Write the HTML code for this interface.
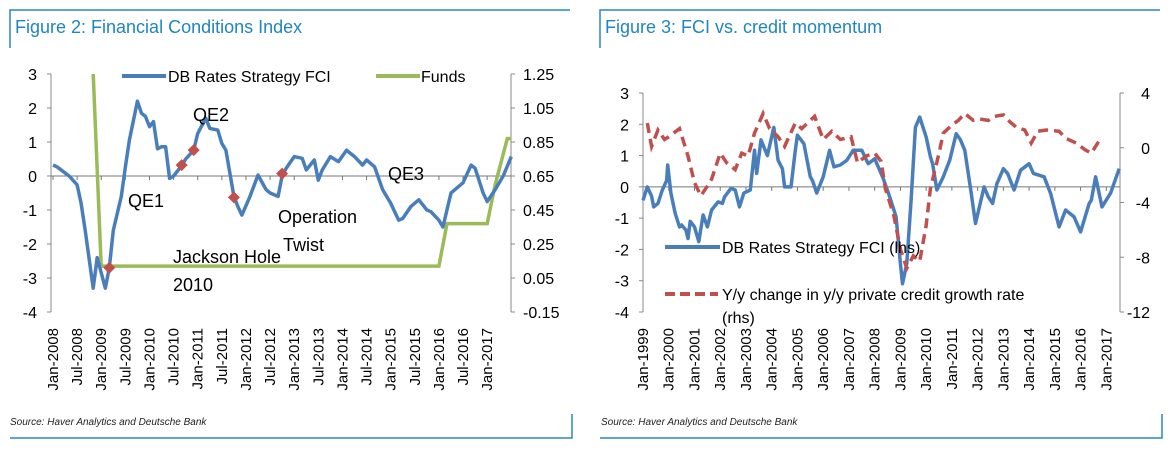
<!DOCTYPE html>
<html><head><meta charset="utf-8"><style>
body{margin:0;background:#fff;width:1172px;height:453px;overflow:hidden;font-family:"Liberation Sans",sans-serif}
svg{position:absolute;left:0;top:0}
</style></head><body>
<svg width="1172" height="453" xmlns="http://www.w3.org/2000/svg" id="svg">
<g stroke="#2a8ab8" stroke-width="1.5" fill="none">
<path d="M10 48 V10 H570"/><path d="M10 438 H572 V414"/>
<path d="M600 48 V10 H1160"/><path d="M600 438 H1162 V414"/>
</g>
<text x="15" y="33" font-size="18" fill="#1f86c0">Figure 2: Financial Conditions Index</text>
<text x="605" y="33" font-size="18" fill="#1f86c0">Figure 3: FCI vs. credit momentum</text>
<text x="10" y="425" font-size="10" font-style="italic" fill="#222">Source: Haver Analytics and Deutsche Bank</text>
<text x="601" y="425" font-size="10" font-style="italic" fill="#222">Source: Haver Analytics and Deutsche Bank</text>
<g id="c1"></g>
<g id="c2"></g>
</svg>
<script>
// ---- Figure 2 data ----
const fciMonths=[0,1,4,6,7,8,10,11,13,14,15,17,18,19,21,22,23,24,25,26,27,28,29,30,32,33,35,36,38,39,41,42,43,45,46,47,49,51,53,54,56,57,58,60,62,63,65,66,67,69,71,73,75,77,78,80,82,84,86,87,89,91,93,94,96,97,99,100,102,104,105,107,108,110,112,114];
const fciValues=[0.32,0.27,0,-0.26,-0.8,-1.6,-3.3,-2.4,-3.3,-2.7,-1.6,-0.6,0.27,1.06,2.2,1.85,1.75,1.45,1.6,0.8,0.86,0.86,-0.07,0,0.3,0.5,0.76,1.25,1.7,1.4,1.35,0.96,0.76,-0.6,-0.9,-1.15,-0.6,0.03,-0.4,-0.5,-0.6,0,0.23,0.57,0.52,0.18,0.47,-0.12,0.18,0.57,0.42,0.76,0.57,0.32,0.47,0.27,-0.4,-0.8,-1.3,-1.25,-0.9,-0.7,-1.0,-1.05,-1.3,-1.5,-0.5,-0.4,-0.2,0.32,0.23,-0.5,-0.75,-0.4,0,0.57];
const fundsMonths=[10,12,96,98,108,110,113,114];
const fundsValues=[1.25,0.12,0.12,0.37,0.37,0.6,0.87,0.87];
const markerMonths=[14,32,35,45,57];
const markerValues=[-2.7,0.32,0.76,-0.63,0.07];
const leftTicks1=[3,2,1,0,-1,-2,-3,-4];
const rightTicks1=["1.25","1.05","0.85","0.65","0.45","0.25","0.05","-0.15"];
const xLabels1=["Jan-2008","Jul-2008","Jan-2009","Jul-2009","Jan-2010","Jul-2010","Jan-2011","Jul-2011","Jan-2012","Jul-2012","Jan-2013","Jul-2013","Jan-2014","Jul-2014","Jan-2015","Jul-2015","Jan-2016","Jul-2016","Jan-2017"];
// ---- Figure 3 data ----
const fci2Months=[0,2,4,5,7,9,11,11.5,13,15,17,18,20,21,22,24,26,28,30,32,35,37,38,41,43,45,47,50,52,53,55,58,61,63,65,66,69,71,72,75,78,79,81,84,87,89,92,95,98,100,102,105,108,112,115,118,120,121,123,125,127,129,132,134,135,137,140,143,146,148,150,153,155,159,161,163,165,168,170,173,176,180,182,187,190,194,197,201,204,208,209,211,214,218,222];
const fci2Values=[-0.43,0,-0.3,-0.64,-0.53,-0.1,0.2,0.7,-0.2,-0.85,-1.28,-1.22,-1.38,-1.65,-1.1,-1.28,-1.75,-0.9,-1.28,-0.74,-0.48,-0.53,-0.32,-0.05,-0.1,-0.64,-0.2,-0.1,1.17,0.43,1.5,1.0,1.9,0.85,0.58,0,0,1.17,1.65,1.38,0.32,0.2,-0.2,0.32,1.17,0.64,0.7,0.85,1.17,1.17,1.17,0.74,0.9,0.27,-0.32,-0.96,-2.45,-3.1,-2.45,-0.43,1.9,2.23,1.6,0.96,0.74,-0.1,0.32,0.85,1.7,1.5,1.17,-0.2,-1.17,0,-0.32,-0.53,0.1,0.58,0.43,-0.1,0.53,0.74,0.43,0.32,-0.2,-1.28,-0.74,-0.96,-1.44,-0.53,-0.43,0.32,-0.64,-0.2,0.58];
const creditMonths=[2,4,7,10,12,17,21,24,27,30,32,36,39,43,46,49,52,56,59,63,66,71,74,80,84,88,92,97,100,104,108,111,113,117,120,123,126,129,132,134,138,140,144,147,150,154,157,161,164,168,171,174,178,181,184,188,194,197,202,206,209,212,215];
const creditValues=[1.8,0.1,1.3,0.6,0.8,1.4,-0.6,-2.55,-3.5,-2.8,-2.3,-0.4,-1.1,-1.6,-0.4,-0.6,1.06,2.5,1.4,0.8,0.1,1.8,1.4,2.3,0.6,1.2,0.6,0.8,-1.1,-0.6,-0.4,-1.0,-3.0,-5.0,-7.4,-8.8,-7.9,-8.3,-5.7,-3.0,-0.4,1.06,1.66,2.0,2.5,2.0,2.1,2.0,2.3,2.4,1.9,1.5,1.3,0.34,1.2,1.3,1.2,0.7,0.34,-0.14,-0.4,0.34,0.1];
const leftTicks2=[3,2,1,0,-1,-2,-3,-4];
const rightTicks2=[4,0,-4,-8,-12];
const xLabels2=["Jan-1999","Jan-2000","Jan-2001","Jan-2002","Jan-2003","Jan-2004","Jan-2005","Jan-2006","Jan-2007","Jan-2008","Jan-2009","Jan-2010","Jan-2011","Jan-2012","Jan-2013","Jan-2014","Jan-2015","Jan-2016","Jan-2017"];

const NS="http://www.w3.org/2000/svg";
function mk(parent,tag,attrs,txt){const e=document.createElementNS(NS,tag);for(const k in attrs)e.setAttribute(k,attrs[k]);if(txt!==undefined)e.textContent=txt;parent.appendChild(e);return e;}
function pathD(xs,ys,fx,fy){return xs.map((m,i)=>(i?'L':'M')+fx(m).toFixed(1)+' '+fy(ys[i]).toFixed(1)).join(' ');}

// ===== Chart 1 =====
(function(){
const g=document.getElementById('c1');
const L=51,R=511,T=74,B=312;
const x=m=>L+2+m*4.02;
const y=v=>T+(3-v)*(B-T)/7;
const y2=v=>T+(1.25-v)*(B-T)/1.4;
let e=mk(g,'line',{x1:L,y1:T,x2:L,y2:B,stroke:'#888'});

e=mk(g,'line',{x1:R,y1:T,x2:R,y2:B,stroke:'#888'});

e=mk(g,'line',{x1:L,y1:y(0),x2:R,y2:y(0),stroke:'#777'});

leftTicks1.forEach(v=>{mk(g,'line',{x1:L-4,y1:y(v),x2:L,y2:y(v),stroke:'#888'});
 const t=mk(g,'text',{x:L-14,y:y(v)+6,'font-size':16,'text-anchor':'end',fill:'#000'},String(v));
 });
rightTicks1.forEach((s,i)=>{const yy=T+i*(B-T)/7;mk(g,'line',{x1:R,y1:yy,x2:R+4,y2:yy,stroke:'#888'});
 const t=mk(g,'text',{x:R+12,y:yy+6,'font-size':16,fill:'#000'},s);
 });
xLabels1.forEach((s,i)=>{const xx=x(i*6);mk(g,'line',{x1:xx,y1:y(0),x2:xx,y2:y(0)+4,stroke:'#777'});
 const t=mk(g,'text',{transform:`translate(${xx+5},328) rotate(-90)`,'font-size':15,'text-anchor':'end',fill:'#000'},s);
 });
e=mk(g,'path',{d:pathD(fundsMonths,fundsValues,x,y2),fill:'none',stroke:'#9bbb59','stroke-width':3.5});

e=mk(g,'path',{d:pathD(fciMonths,fciValues,x,y),fill:'none',stroke:'#4a7ebb','stroke-width':3.5,'stroke-linejoin':'round'});

markerMonths.forEach((m,i)=>{const cx=x(m),cy=y(markerValues[i]);
 const p=mk(g,'path',{d:`M${cx} ${cy-6} L${cx+6} ${cy} L${cx} ${cy+6} L${cx-6} ${cy}Z`,fill:'#c0504d'});
 });
[["QE2",193,121],["QE1",128,207],["QE3",388,180],["Operation",278,223],["Twist",283,251],["Jackson Hole",173,263],["2010",173,291]].forEach(a=>{
 const t=mk(g,'text',{x:a[1],y:a[2],'font-size':18,fill:'#000'},a[0]);
 });
e=mk(g,'line',{x1:122,y1:76,x2:166,y2:76,stroke:'#4a7ebb','stroke-width':4});

e=mk(g,'text',{x:168,y:82,'font-size':16,fill:'#000'},'DB Rates Strategy FCI');

e=mk(g,'line',{x1:376,y1:76,x2:420,y2:76,stroke:'#9bbb59','stroke-width':4});

e=mk(g,'text',{x:421,y:82,'font-size':16,fill:'#000'},'Funds');

})();

// ===== Chart 2 =====
(function(){
const g=document.getElementById('c2');
const L=643,R=1120,T=93,B=312;
const x=m=>L+m*2.145;
const y=v=>T+(3-v)*(B-T)/7;
const y2=v=>T+(4-v)*(B-T)/16;
let e=mk(g,'line',{x1:L,y1:T,x2:L,y2:B,stroke:'#888'});

e=mk(g,'line',{x1:R,y1:T,x2:R,y2:B,stroke:'#888'});

e=mk(g,'line',{x1:L,y1:y(0),x2:R,y2:y(0),stroke:'#777'});

leftTicks2.forEach(v=>{mk(g,'line',{x1:L-4,y1:y(v),x2:L,y2:y(v),stroke:'#888'});
 const t=mk(g,'text',{x:L-14,y:y(v)+6,'font-size':16,'text-anchor':'end',fill:'#000'},String(v));
 });
rightTicks2.forEach(v=>{const yy=y2(v);mk(g,'line',{x1:R,y1:yy,x2:R+4,y2:yy,stroke:'#888'});
 const t=mk(g,'text',{x:R+30,y:yy+6,'font-size':16,'text-anchor':'end',fill:'#000'},String(v));
 });
xLabels2.forEach((s,i)=>{const xx=x(i*12);mk(g,'line',{x1:xx,y1:y(0),x2:xx,y2:y(0)+4,stroke:'#777'});
 const t=mk(g,'text',{transform:`translate(${xx+5},328) rotate(-90)`,'font-size':15,'text-anchor':'end',fill:'#000'},s);
 });
e=mk(g,'path',{d:pathD(fci2Months,fci2Values,x,y),fill:'none',stroke:'#4a7ebb','stroke-width':3.5,'stroke-linejoin':'round'});

e=mk(g,'path',{d:pathD(creditMonths,creditValues,x,y2),fill:'none',stroke:'#c0504d','stroke-width':3.5,'stroke-dasharray':'10 6'});

e=mk(g,'line',{x1:665,y1:247,x2:720,y2:247,stroke:'#4a7ebb','stroke-width':4});

e=mk(g,'text',{x:722,y:253,'font-size':16,fill:'#000'},'DB Rates Strategy FCI (lhs)');

e=mk(g,'line',{x1:665,y1:294,x2:718,y2:294,stroke:'#c0504d','stroke-width':4,'stroke-dasharray':'10 5'});

e=mk(g,'text',{x:722,y:300,'font-size':16,fill:'#000'},'Y/y change in y/y private credit growth rate');

e=mk(g,'text',{x:722,y:323,'font-size':16,fill:'#000'},'(rhs)');

})();
</script>
</body></html>
